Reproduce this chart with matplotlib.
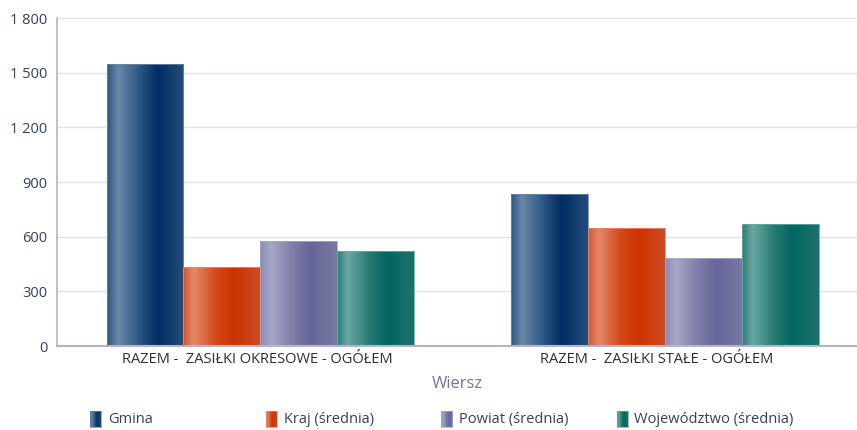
import numpy as np
import matplotlib
matplotlib.use("Agg")
import matplotlib.pyplot as plt
from matplotlib.colors import LinearSegmentedColormap
from matplotlib.patches import Rectangle

plt.rcParams['font.family'] = ['Open Sans', 'DejaVu Sans']

categories = ["RAZEM -  ZASIŁKI OKRESOWE - OGÓŁEM", "RAZEM -  ZASIŁKI STAŁE - OGÓŁEM"]
series_names = ["Gmina", "Kraj (średnia)", "Powiat (średnia)", "Województwo (średnia)"]
gmina = [1550, 835]
kraj = [432, 645]
powiat = [577, 483]
wojewodztwo = [520, 670]
y_ticks = [0, 300, 600, 900, 1200, 1500, 1800]

# gradient stops per series: edge, highlight, mid, dark, edge
palettes = [
    ["#2a5580", "#6a88a8", "#2c5784", "#002d62", "#234d7a"],
    ["#d4542c", "#e4896a", "#d24a1c", "#cc3300", "#cf4a22"],
    ["#8a8ab2", "#a8a8c8", "#7e7ea8", "#66669a", "#7878a4"],
    ["#2a7c76", "#6aa8a2", "#267a72", "#006660", "#1e726c"],
]
stops = [0.0, 0.14, 0.42, 0.66, 1.0]

values = [gmina, kraj, powiat, wojewodztwo]

fig = plt.figure(figsize=(8.57, 4.30), dpi=100)
ax = fig.add_axes([57 / 857, 84 / 430, 800 / 857, 328 / 430])

x = np.arange(len(categories)) + np.array([0.008, 0.02])
w = 0.192
grad = np.linspace(0, 1, 256).reshape(1, -1)

cmaps = []
for i, (vals, pal) in enumerate(zip(values, palettes)):
    cmap = LinearSegmentedColormap.from_list(f"c{i}", list(zip(stops, pal)))
    cmaps.append(cmap)
    bars = ax.bar(x + (i - 1.5) * w, vals, width=w, facecolor="none",
                  edgecolor=pal[1], linewidth=0.6, zorder=3)
    for b in bars:
        x0, y0 = b.get_x(), b.get_y()
        im = ax.imshow(grad, cmap=cmap, extent=[x0, x0 + b.get_width(), y0, y0 + b.get_height()],
                       aspect="auto", interpolation="bicubic", zorder=2)
        im.set_clip_path(b)

ax.set_xlim(-0.5, 1.5)
ax.set_ylim(0, 1800)
ax.set_yticks(y_ticks)
ax.set_yticklabels([f"{v:,}".replace(",", " ") for v in y_ticks])
ax.set_xticks(np.arange(len(categories)))
ax.set_xticklabels(categories)
ax.tick_params(axis="both", length=0, labelsize=10.5)
ax.tick_params(axis="y", pad=7, labelcolor="#34405a")
ax.tick_params(axis="x", pad=4, labelcolor="#2e2e36")
ax.grid(axis="y", color="#e2e2ec", linewidth=1.0, zorder=0)
ax.set_axisbelow(True)
for s in ["top", "right"]:
    ax.spines[s].set_visible(False)
ax.spines["left"].set_color("#b4b4cc")
ax.spines["bottom"].set_color("#b4b4cc")
ax.spines["left"].set_linewidth(1.2)
ax.spines["bottom"].set_linewidth(1.5)
ax.set_xlabel("Wiersz", fontsize=12, color="#7474a0", labelpad=7)

# legend along the bottom
for i, (name, cmap, pal) in enumerate(zip(series_names, cmaps, palettes)):
    lx = (90 + i * 175.5) / 857
    lax = fig.add_axes([lx, 3 / 430, 11 / 857, 16 / 430])
    lax.imshow(grad, cmap=cmap, aspect="auto", interpolation="bicubic")
    lax.set_xticks([])
    lax.set_yticks([])
    for sp in lax.spines.values():
        sp.set_color(pal[1])
        sp.set_linewidth(0.5)
    fig.text(lx + 18 / 857, 10.5 / 430, name, fontsize=10.5, color="#34405a", va="center")

fig.savefig("out.png", dpi=100)
